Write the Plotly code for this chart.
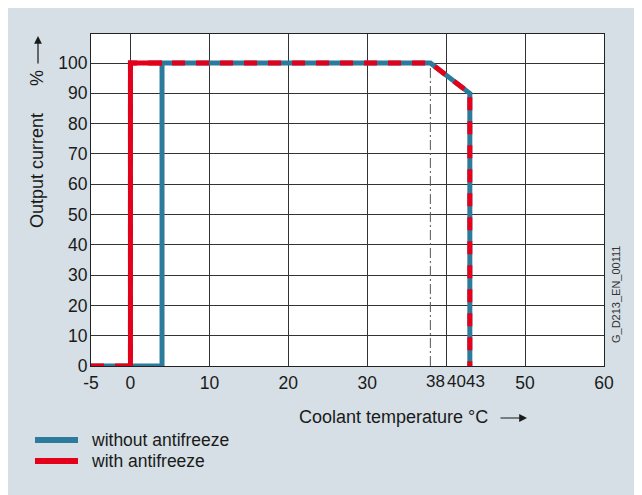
import plotly.graph_objects as go

# ---- data ----
temp_without = [-5, 4, 4, 38, 43, 43]
current_without = [0, 0, 100, 100, 90, 0]
temp_with = [-5, 0, 0, 38, 43, 43]
current_with = [0, 0, 100, 100, 90, 0]
derating_start = 38

x_tickvals = [-5, 0, 10, 20, 30, 40, 50, 60]
x_ticktext = ["-5", "0", "10", "20", "30", "", "50", "60"]
x_extra_labels = [38, 40, 43]
y_tickvals = [0, 10, 20, 30, 40, 50, 60, 70, 80, 90, 100]
series_names = ["without antifreeze", "with antifreeze"]

BLUE = "#2c7a9c"
RED = "#e2001a"
PANEL = "#d5dfe5"
TXT = "#1a1a1a"
FONT = "Liberation Sans, Arial, sans-serif"

# page offset (body margin) and screen-space plot box
OFF = 8
SX0, SX1, SY0, SY1 = 91, 604, 34, 366
W, H = 642, 495
L = SX0 - OFF
R = W - (SX1 - OFF)
T = SY0 - OFF
B = H - (SY1 - OFF)


def px(sx):
    return (sx - SX0) / (SX1 - SX0)


def py(sy):
    return (SY1 - sy) / (SY1 - SY0)


fig = go.Figure()

# dash-dot marker at start of derating
fig.add_trace(go.Scatter(
    x=[derating_start, derating_start], y=[0, current_with[3]],
    mode="lines", line=dict(color="#555", width=1, dash="10px,3px,2px,3px"),
    showlegend=False, hoverinfo="skip"))

# without antifreeze (solid blue)
fig.add_trace(go.Scatter(
    x=temp_without, y=current_without, mode="lines", name=series_names[0],
    line=dict(color=BLUE, width=5), showlegend=False))

# with antifreeze: dashed over shared path
fig.add_trace(go.Scatter(
    x=temp_with, y=current_with, mode="lines", name=series_names[1], showlegend=False,
    line=dict(color=RED, width=5, dash="13px,11px")))

# with antifreeze: solid where it stands alone
fig.add_trace(go.Scatter(
    x=[temp_with[1], temp_with[2], temp_without[2]],
    y=[current_with[1], current_with[2], current_with[3]],
    mode="lines", name=series_names[1], showlegend=False,
    line=dict(color=RED, width=5)))

annotations = []
for v, shift in zip(x_extra_labels, [5, 10, 6]):
    annotations.append(dict(
        x=v, y=0, xref="x", yref="paper", yanchor="top", xanchor="center",
        showarrow=False, text=str(v), yshift=-4, xshift=shift,
        font=dict(family=FONT, size=17, color=TXT)))

annotations += [
    dict(x=px(37), y=py(171), xref="paper", yref="paper", text="Output current",
         textangle=-90, xanchor="center", yanchor="middle", showarrow=False,
         font=dict(family=FONT, size=18, color=TXT)),
    dict(x=px(37), y=py(78), xref="paper", yref="paper", text="%",
         textangle=-90, xanchor="center", yanchor="middle", showarrow=False,
         font=dict(family=FONT, size=18, color=TXT)),
    dict(x=px(38), y=py(36), xref="paper", yref="paper", text="", showarrow=True,
         ax=0, ay=29, arrowhead=2, arrowsize=1.3, arrowwidth=1.2, arrowcolor=TXT),
    dict(x=px(393), y=py(417), xref="paper", yref="paper", text="Coolant temperature °C",
         xanchor="center", yanchor="middle", showarrow=False,
         font=dict(family=FONT, size=18, color=TXT)),
    dict(x=px(527), y=py(418), xref="paper", yref="paper", text="", showarrow=True,
         ax=-28, ay=0, arrowhead=2, arrowsize=1.3, arrowwidth=1.2, arrowcolor=TXT),
    dict(x=px(616), y=py(295), xref="paper", yref="paper", text="G_D213_EN_00111",
         textangle=-90, xanchor="center", yanchor="middle", showarrow=False,
         font=dict(family=FONT, size=11, color="#333")),
]

# legend (drawn manually to match the long legend keys)
shapes = []
for name, color, sy in zip(series_names, [BLUE, RED], [440, 461]):
    shapes.append(dict(type="line", xref="paper", yref="paper",
                       x0=px(35), x1=px(78), y0=py(sy), y1=py(sy),
                       line=dict(color=color, width=6)))
    annotations.append(dict(x=px(89), y=py(sy), xref="paper", yref="paper", text=name,
                            xanchor="left", yanchor="middle", showarrow=False,
                            font=dict(family=FONT, size=17.5, color=TXT)))

fig.update_layout(
    width=W, height=H,
    margin=dict(l=L, r=R, t=T, b=B, autoexpand=False),
    paper_bgcolor=PANEL, plot_bgcolor="white",
    font=dict(family=FONT, size=17, color=TXT),
    showlegend=False,
    annotations=annotations,
    shapes=shapes,
    xaxis=dict(range=[-5, 60], tickmode="array", tickvals=x_tickvals, ticktext=x_ticktext,
               tickangle=0, showgrid=True, gridcolor="#333", gridwidth=1, zeroline=False,
               showline=True, linecolor="#222", linewidth=1, mirror=True, ticks="",
               ticklabelstandoff=1,
               tickfont=dict(family=FONT, size=17.5, color=TXT), fixedrange=True),
    yaxis=dict(range=[0, 109.6], tickmode="array", tickvals=y_tickvals,
               showgrid=True, gridcolor="#333", gridwidth=1, zeroline=False,
               showline=True, linecolor="#222", linewidth=1, mirror=True, ticks="",
               ticklabelstandoff=-1,
               tickfont=dict(family=FONT, size=17.5, color=TXT), fixedrange=True),
)

fig.write_html("out.html")
